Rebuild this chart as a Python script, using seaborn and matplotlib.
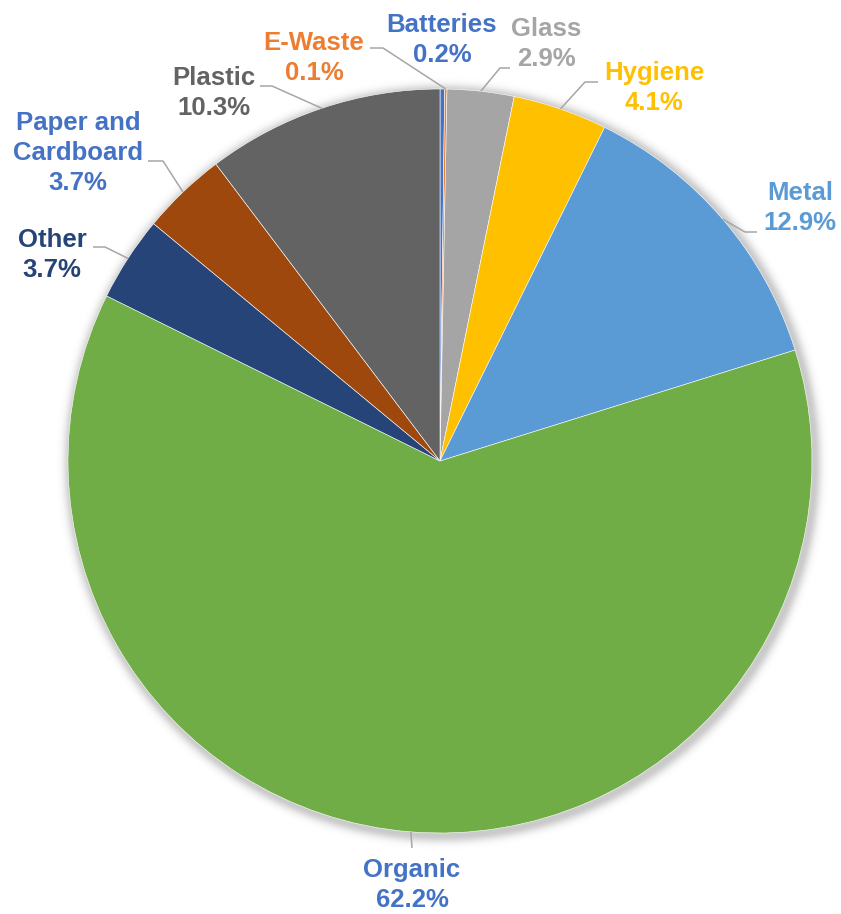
import numpy as np
import matplotlib
matplotlib.use("Agg")
import matplotlib.pyplot as plt
import seaborn as sns

sns.set_theme(style="white")
plt.rcParams["font.family"] = ["Liberation Sans", "DejaVu Sans"]

# Waste composition (%)
categories = ["Batteries", "E-Waste", "Glass", "Hygiene", "Metal",
              "Organic", "Other", "Paper and\nCardboard", "Plastic"]
shares = [0.2, 0.1, 2.9, 4.1, 12.9, 62.2, 3.7, 3.7, 10.3]

slice_colors = sns.color_palette(["#4472C4", "#ED7D31", "#A5A5A5", "#FFC000", "#5B9BD5",
                                  "#70AD47", "#264478", "#9E480E", "#636363"])
label_colors = ["#4472C4", "#ED7D31", "#A5A5A5", "#FFC000", "#5B9BD5",
                "#4472C4", "#264478", "#4472C4", "#636363"]

# label block centres and leader-line ends (pixel coordinates, y downward)
label_pos = [(442, 40), (314, 58), (546, 44), (654, 88), (800, 208),
             (412, 885), (52, 255), (78, 153), (214, 93)]
leader_end = [None, (370, 48), (510, 68), (598, 82), (757, 232),
              (412, 848), (93, 247), (148, 161), (260, 86)]
leader_elbow = [None, (383, 48), (500, 68), (585, 82), (745, 232),
                (412, 848), (105, 247), (163, 161), (272, 86)]

W, H = 841, 914
fig = plt.figure(figsize=(W / 100, H / 100), dpi=100)
ax = fig.add_axes([0, 0, 1, 1])

cx, cy, R = 440, H - 461, 372

# soft drop shadow around the pie
yy, xx = np.mgrid[0:H, 0:W]
dist = np.hypot(xx - (cx + 2), (H - 1 - yy) - (cy - 3))
alpha = np.where(dist > R, 0.32 * np.exp(-((dist - R) / 7.0) ** 2), 0.32)
shadow = np.zeros((H, W, 4))
shadow[..., :3] = 0.35
shadow[..., 3] = alpha
ax.imshow(shadow, extent=(0, W, 0, H), origin="upper", zorder=0, interpolation="bilinear")

wedges, _ = ax.pie(shares, colors=slice_colors, startangle=90, counterclock=False,
                   center=(cx, cy), radius=R, frame=True,
                   wedgeprops=dict(edgecolor="white", linewidth=0.4))
for w in wedges:
    w.set_zorder(2)

ax.set_xlim(0, W)
ax.set_ylim(0, H)
ax.set_aspect("equal")
ax.axis("off")

total = sum(shares)
cum = 0.0
for i, (name, val) in enumerate(zip(categories, shares)):
    mid = (cum + val / 2) / total * 360.0
    cum += val
    theta = np.deg2rad(90 - mid)
    ex, ey = cx + R * np.cos(theta), cy + R * np.sin(theta)
    if leader_end[i] is not None:
        bx, by = leader_elbow[i]
        tx, ty = leader_end[i]
        ax.plot([ex, bx, tx], [ey, H - by, H - ty], color="#A6A6A6", lw=1.1,
                zorder=3, solid_capstyle="butt")
    lx, ly = label_pos[i]
    ax.text(lx, H - ly, f"{name}\n{val:.1f}%", ha="center", va="center",
            fontsize=18.5, fontweight="bold", color=label_colors[i],
            linespacing=1.3, zorder=4)

fig.savefig("out.png", dpi=100, facecolor="white")
